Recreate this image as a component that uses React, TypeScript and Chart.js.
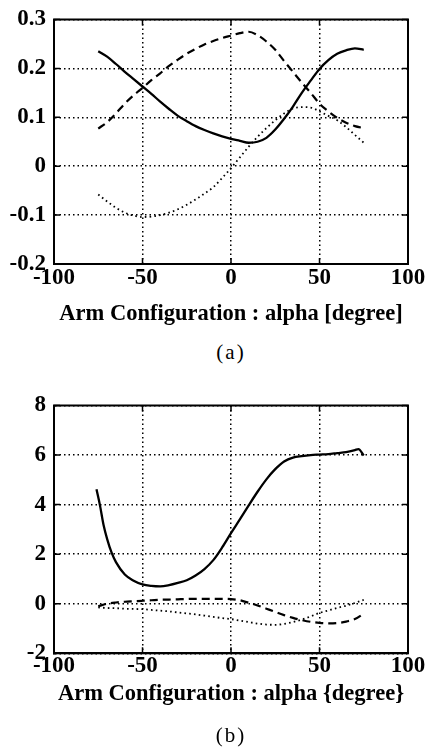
import React, { useEffect, useRef } from 'react';
import { Chart, registerables } from 'chart.js';

Chart.register(...registerables);

// ---------- data ----------
const alphaA = [-75, -70, -65, -60, -55, -50, -45, -40, -35, -30, -25, -20, -15, -10, -5, 0, 5, 10, 15, 20, 25, 30, 35, 40, 45, 50, 55, 60, 65, 70, 75];
const solidA = [0.235, 0.224, 0.209, 0.193, 0.178, 0.163, 0.148, 0.132, 0.117, 0.103, 0.092, 0.082, 0.074, 0.067, 0.061, 0.056, 0.052, 0.048, 0.050, 0.058, 0.075, 0.097, 0.122, 0.150, 0.175, 0.199, 0.217, 0.230, 0.237, 0.241, 0.238];
const dashedA = [0.077, 0.090, 0.108, 0.128, 0.145, 0.160, 0.176, 0.190, 0.205, 0.218, 0.230, 0.240, 0.249, 0.256, 0.262, 0.267, 0.272, 0.275, 0.268, 0.255, 0.238, 0.215, 0.193, 0.171, 0.150, 0.128, 0.112, 0.099, 0.089, 0.082, 0.078];
const dottedA = [-0.058, -0.072, -0.085, -0.095, -0.101, -0.104, -0.103, -0.100, -0.095, -0.088, -0.079, -0.068, -0.056, -0.043, -0.024, -0.004, 0.018, 0.040, 0.060, 0.078, 0.094, 0.108, 0.118, 0.121, 0.120, 0.112, 0.103, 0.094, 0.080, 0.064, 0.048];

const alphaSolidB = [-76, -74, -72, -70, -67.5, -65, -60, -55, -50, -45, -40, -35, -30, -25, -20, -15, -10, -5, 0, 5, 10, 15, 20, 25, 30, 35, 40, 45, 50, 55, 60, 65, 70, 72, 75];
const solidB = [4.62, 3.96, 3.18, 2.62, 2.07, 1.68, 1.18, 0.93, 0.78, 0.72, 0.70, 0.75, 0.84, 0.95, 1.14, 1.40, 1.76, 2.27, 2.85, 3.40, 3.97, 4.52, 5.02, 5.43, 5.74, 5.90, 5.96, 6.00, 6.02, 6.04, 6.08, 6.12, 6.20, 6.24, 5.98];
const alphaB = [-75, -70, -65, -60, -55, -50, -45, -40, -35, -30, -25, -20, -15, -10, -5, 0, 5, 10, 15, 20, 25, 30, 35, 40, 45, 50, 55, 60, 65, 70, 75];
const dashedB = [-0.10, 0.0, 0.05, 0.08, 0.10, 0.12, 0.14, 0.16, 0.17, 0.18, 0.19, 0.20, 0.20, 0.20, 0.20, 0.19, 0.14, 0.04, -0.07, -0.20, -0.33, -0.46, -0.57, -0.66, -0.73, -0.77, -0.79, -0.78, -0.72, -0.62, -0.40];
const dottedB = [-0.15, -0.17, -0.18, -0.20, -0.21, -0.22, -0.25, -0.28, -0.31, -0.35, -0.39, -0.43, -0.48, -0.53, -0.58, -0.62, -0.68, -0.74, -0.80, -0.84, -0.85, -0.81, -0.74, -0.64, -0.51, -0.37, -0.27, -0.17, -0.08, 0.03, 0.16];

const xTickValues = [-100, -50, 0, 50, 100];
const xTickLabels = ['-100', '-50', '0', '50', '100'];
const yTickValuesA = [-0.2, -0.1, 0, 0.1, 0.2, 0.3];
const yTickLabelsA = ['-0.2', '-0.1', '0', '0.1', '0.2', '0.3'];
const yTickValuesB = [-2, 0, 2, 4, 6, 8];
const yTickLabelsB = ['-2', '0', '2', '4', '6', '8'];

const xTitleA = 'Arm Configuration : alpha [degree]';
const xTitleB = 'Arm Configuration : alpha {degree}';
const captionA = '(a)';
const captionB = '(b)';

const FONT = "'Liberation Serif', 'Times New Roman', serif";

// ---------- plugin: full box + inward tick marks ----------
const framePlugin = {
  id: 'frame',
  afterDraw(chart: any, _args: any, opts: any) {
    const { ctx, chartArea: a, scales } = chart;
    ctx.save();
    ctx.strokeStyle = '#000';
    ctx.lineWidth = 2;
    ctx.setLineDash([]);
    ctx.strokeRect(a.left, a.top, a.right - a.left, a.bottom - a.top);
    ctx.lineWidth = 1.5;
    const len = 6;
    ctx.beginPath();
    for (const v of xTickValues) {
      const px = scales.x.getPixelForValue(v);
      ctx.moveTo(px, a.bottom);
      ctx.lineTo(px, a.bottom - len);
      ctx.moveTo(px, a.top);
      ctx.lineTo(px, a.top + len);
    }
    for (const v of (opts.yTicks || [])) {
      const py = scales.y.getPixelForValue(v);
      ctx.moveTo(a.left, py);
      ctx.lineTo(a.left + len, py);
      ctx.moveTo(a.right, py);
      ctx.lineTo(a.right - len, py);
    }
    ctx.stroke();
    ctx.restore();
  },
};

function toPoints(xs: number[], ys: number[]) {
  return ys.map((y, i) => ({ x: xs[i], y }));
}

type Spec = {
  solid: { x: number; y: number }[];
  dashed: { x: number; y: number }[];
  dotted: { x: number; y: number }[];
  yMin: number;
  yMax: number;
  yTicks: number[];
  yLabels: string[];
  title: string;
  padTop: number;
  xHeight: number;
  tickPad: number;
  titlePadBottom: number;
};

function makeConfig(s: Spec): any {
  const common = { borderColor: '#000', pointRadius: 0, cubicInterpolationMode: 'monotone', fill: false };
  return {
    type: 'line',
    data: {
      datasets: [
        { ...common, data: s.solid, borderWidth: 2.3 },
        { ...common, data: s.dashed, borderWidth: 2.2, borderDash: [8, 5] },
        { ...common, data: s.dotted, borderWidth: 1.8, borderDash: [1.6, 3.2] },
      ],
    },
    options: {
      animation: false,
      responsive: false,
      events: [],
      layout: { padding: { top: s.padTop, right: 26, left: 0, bottom: 0 } },
      plugins: {
        legend: { display: false },
        tooltip: { enabled: false },
        frame: { yTicks: s.yTicks },
      },
      scales: {
        x: {
          type: 'linear',
          min: -100,
          max: 100,
          afterBuildTicks: (scale: any) => {
            scale.ticks = xTickValues.map((v) => ({ value: v }));
          },
          afterFit: (scale: any) => {
            scale.height = s.xHeight;
          },
          ticks: {
            autoSkip: false,
            maxRotation: 0,
            padding: s.tickPad,
            color: '#000',
            font: { family: FONT, size: 23, weight: 'bold', lineHeight: 1 },
            callback: (_v: any, i: number) => xTickLabels[i],
          },
          grid: { color: '#000', lineWidth: 1.5, drawTicks: false },
          border: { display: true, color: '#000', width: 2, dash: [1.5, 3] },
          title: {
            display: true,
            text: s.title,
            color: '#000',
            font: { family: FONT, size: 22.5, weight: 'bold', lineHeight: 1.2 },
            padding: { top: 0, bottom: s.titlePadBottom },
          },
        },
        y: {
          type: 'linear',
          min: s.yMin,
          max: s.yMax,
          afterBuildTicks: (scale: any) => {
            scale.ticks = s.yTicks.map((v) => ({ value: v }));
          },
          afterFit: (scale: any) => {
            scale.width = 54;
          },
          ticks: {
            autoSkip: false,
            padding: 8,
            color: '#000',
            font: { family: FONT, size: 23, weight: 'bold', lineHeight: 1 },
            callback: (_v: any, i: number) => s.yLabels[i],
          },
          grid: { color: '#000', lineWidth: 1.5, drawTicks: false },
          border: { display: true, color: '#000', width: 2, dash: [1.5, 3] },
        },
      },
    },
    plugins: [framePlugin],
  };
}

function ChartCanvas({ spec, top }: { spec: Spec; top: number }) {
  const ref = useRef<HTMLCanvasElement | null>(null);
  useEffect(() => {
    if (!ref.current) return;
    const chart = new Chart(ref.current, makeConfig(spec));
    return () => chart.destroy();
  }, []);
  return (
    <canvas
      ref={ref}
      width={434}
      height={340}
      style={{ position: 'absolute', left: 0, top, width: 434, height: 340, display: 'block' }}
    />
  );
}

const captionStyle = (top: number): React.CSSProperties => ({
  position: 'absolute',
  left: 54,
  width: 354,
  top,
  textAlign: 'center',
  fontFamily: FONT,
  fontSize: 21,
  lineHeight: '24px',
  letterSpacing: 2,
  color: '#000',
});

export default function App() {
  const specA: Spec = {
    solid: toPoints(alphaA, solidA),
    dashed: toPoints(alphaA, dashedA),
    dotted: toPoints(alphaA, dottedA),
    yMin: -0.2,
    yMax: 0.3,
    yTicks: yTickValuesA,
    yLabels: yTickLabelsA,
    title: xTitleA,
    padTop: 13.3,
    xHeight: 76,
    tickPad: 2.5,
    titlePadBottom: 12.5,
  };
  const specB: Spec = {
    solid: toPoints(alphaSolidB, solidB),
    dashed: toPoints(alphaB, dashedB),
    dotted: toPoints(alphaB, dottedB),
    yMin: -2,
    yMax: 8,
    yTicks: yTickValuesB,
    yLabels: yTickLabelsB,
    title: xTitleB,
    padTop: 13.3,
    xHeight: 72.7,
    tickPad: 1,
    titlePadBottom: 18.5,
  };
  return (
    <div style={{ position: 'absolute', left: 0, top: 0, width: 434, height: 751, background: '#fff', overflow: 'hidden' }}>
      <ChartCanvas spec={specA} top={0} />
      <div style={captionStyle(340)}>{captionA}</div>
      <ChartCanvas spec={specB} top={386} />
      <div style={captionStyle(722.5)}>{captionB}</div>
    </div>
  );
}
